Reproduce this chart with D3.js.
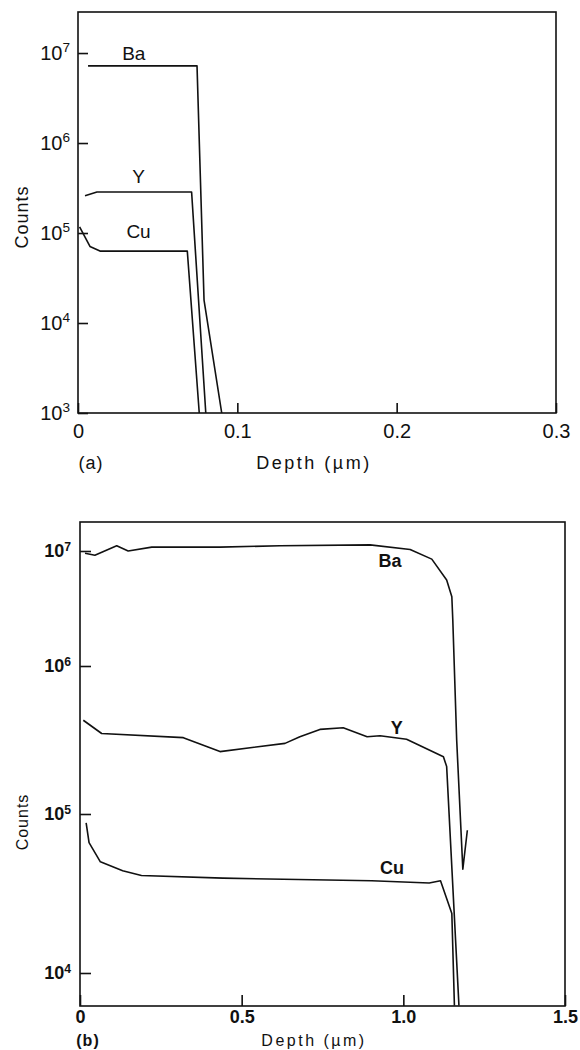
<!DOCTYPE html>
<html>
<head>
<meta charset="utf-8">
<script src="https://cdn.jsdelivr.net/npm/d3@7/dist/d3.min.js"></script>
<style>
  body { margin: 0; background: #fff; }
  svg { display: block; }
  text { font-family: 'Liberation Sans', Arial, sans-serif; fill: #111; }
</style>
</head>
<body>
<script>
/* global d3 */

// ---- panel (a) : depth in um, counts ----
const aBaDepth = [0.0063, 0.0747, 0.0791, 0.0902];
const aBaCounts = [7.2e6, 7.2e6, 1.8e4, 1e3];
const aYDepth = [0.0044, 0.0119, 0.0713, 0.0802];
const aYCounts = [2.6e5, 2.86e5, 2.86e5, 1e3];
const aCuDepth = [0.001, 0.0075, 0.0138, 0.0686, 0.0761];
const aCuCounts = [1.17e5, 7.1e4, 6.3e4, 6.3e4, 1e3];
const aLabels = ['Ba', 'Y', 'Cu'];
const aLabelDepth = [0.035, 0.038, 0.038];
const aLabelCounts = [1.0e7, 4.3e5, 1.05e5];
const aXTicks = [0, 0.1, 0.2, 0.3];
const aYTicks = [1e3, 1e4, 1e5, 1e6, 1e7];

// ---- panel (b) ----
const bBaDepth = [0.0155, 0.046, 0.1135, 0.149, 0.222, 0.433, 0.619, 0.897, 1.021,
  1.088, 1.134, 1.150, 1.153, 1.165, 1.184, 1.198];
const bBaCounts = [9.55e6, 9.2e6, 1.11e7, 1.0e7, 1.08e7, 1.08e7, 1.11e7, 1.13e7, 1.03e7,
  8.5e6, 5.6e6, 4.0e6, 2.5e6, 3.16e5, 4.5e4, 7.9e4];
const bYDepth = [0.0102, 0.067, 0.3195, 0.433, 0.634, 0.680, 0.742, 0.814, 0.888,
  0.928, 1.01, 1.124, 1.134, 1.172];
const bYCounts = [4.3e5, 3.5e5, 3.28e5, 2.64e5, 3.0e5, 3.33e5, 3.73e5, 3.83e5, 3.33e5,
  3.38e5, 3.2e5, 2.44e5, 2.09e5, 6.2e3];
const bCuDepth = [0.019, 0.028, 0.063, 0.132, 0.190, 0.442, 0.902, 1.08, 1.115, 1.150, 1.158];
const bCuCounts = [8.8e4, 6.6e4, 5.0e4, 4.4e4, 4.1e4, 3.95e4, 3.8e4, 3.68e4, 3.8e4, 2.37e4, 6.2e3];
const bLabels = ['Ba', 'Y', 'Cu'];
const bLabelDepth = [0.959, 0.98, 0.965];
const bLabelCounts = [8.3e6, 3.8e5, 4.6e4];
const bXTicks = [0, 0.5, 1.0, 1.5];
const bXTickText = ['0', '0.5', '1.0', '1.5'];
const bYTicks = [1e4, 1e5, 1e6, 1e7];

const W = 580;
const H = 1050;

const svg = d3.select('body')
  .append('svg')
  .attr('width', W)
  .attr('height', H);

function zip(xs, ys) {
  return xs.map((x, i) => ({ x, y: ys[i] }));
}

function drawPanel(p) {
  const g = svg.append('g');
  const { x, y } = p;
  const [x0, x1] = x.range();
  const yr = y.range();
  const yBottom = yr[0];
  const yTop = yr[yr.length - 1];

  // frame
  g.append('rect')
    .attr('x', x0)
    .attr('y', yTop)
    .attr('width', x1 - x0)
    .attr('height', yBottom - yTop)
    .attr('fill', 'none')
    .attr('stroke', '#111')
    .attr('stroke-width', 1.6);

  const xAxis = d3.axisBottom(x)
    .tickValues(p.xTicks)
    .tickSize(-p.tickLen)
    .tickPadding(p.xPad)
    .tickFormat((d, i) => p.xTickText[i]);
  const gx = g.append('g')
    .attr('transform', `translate(0, ${yBottom})`)
    .call(xAxis);
  gx.select('.domain').remove();
  gx.selectAll('.tick line').attr('stroke', '#111').attr('stroke-width', 1.6);
  gx.selectAll('.tick text')
    .attr('fill', '#111')
    .style('font-size', `${p.tickFont}px`)
    .style('font-weight', p.weight);

  const yAxis = d3.axisLeft(y)
    .tickValues(p.yTicks)
    .tickSize(-p.tickLen)
    .tickPadding(p.yPad);
  const gy = g.append('g')
    .attr('transform', `translate(${x0}, 0)`)
    .call(yAxis);
  gy.select('.domain').remove();
  gy.selectAll('.tick line').attr('stroke', '#111').attr('stroke-width', 1.6);
  gy.selectAll('.tick text')
    .attr('fill', '#111')
    .style('font-size', `${p.tickFont}px`)
    .style('font-weight', p.weight)
    .each(function (d) {
      const t = d3.select(this).text('');
      t.append('tspan').text('10');
      t.append('tspan')
        .attr('dy', '-0.55em')
        .style('font-size', '0.68em')
        .text(Math.round(Math.log10(d)));
    });

  const line = d3.line()
    .x((d) => x(d.x))
    .y((d) => y(d.y));

  g.selectAll('path.series')
    .data(p.series)
    .join('path')
    .attr('class', 'series')
    .attr('d', line)
    .attr('fill', 'none')
    .attr('stroke', '#111')
    .attr('stroke-width', 1.6)
    .attr('stroke-linejoin', 'round');

  g.selectAll('text.lbl')
    .data(p.labels)
    .join('text')
    .attr('class', 'lbl')
    .attr('x', (d, i) => x(p.labelDepth[i]))
    .attr('y', (d, i) => y(p.labelCounts[i]))
    .attr('dy', '0.35em')
    .attr('text-anchor', 'middle')
    .style('font-size', `${p.labelFont}px`)
    .style('font-weight', p.weight)
    .text((d) => d);

  g.append('text')
    .attr('transform', `translate(${p.countsX}, ${p.countsY}) rotate(-90)`)
    .attr('text-anchor', 'middle')
    .attr('dy', '0.35em')
    .style('font-size', `${p.titleFont}px`)
    .style('letter-spacing', '1px')
    .text('Counts');

  g.append('text')
    .attr('x', p.depthX)
    .attr('y', p.titleY)
    .attr('text-anchor', 'middle')
    .attr('dy', '0.35em')
    .style('font-size', `${p.titleFont}px`)
    .style('letter-spacing', '2.5px')
    .text('Depth (\u00b5m)');

  g.append('text')
    .attr('x', p.tagX)
    .attr('y', p.titleY)
    .attr('text-anchor', 'middle')
    .attr('dy', '0.35em')
    .style('font-size', `${p.titleFont}px`)
    .style('font-weight', p.weight)
    .style('letter-spacing', '1px')
    .text(p.tag);
}

const xA = d3.scaleLinear().domain([0, 0.3]).range([78, 556]);
const yA = d3.scaleLog().domain([1e3, 10 ** 7.456]).range([413, 12]);

drawPanel({
  x: xA,
  y: yA,
  xTicks: aXTicks,
  xTickText: aXTicks.map((d) => String(d)),
  yTicks: aYTicks,
  tickLen: 10,
  xPad: 11,
  yPad: 8,
  tickFont: 20,
  labelFont: 19,
  titleFont: 18,
  weight: 'normal',
  series: [zip(aBaDepth, aBaCounts), zip(aYDepth, aYCounts), zip(aCuDepth, aCuCounts)],
  labels: aLabels,
  labelDepth: aLabelDepth,
  labelCounts: aLabelCounts,
  countsX: 22,
  countsY: 217,
  depthX: 314,
  titleY: 463,
  tagX: 91,
  tag: '(a)',
});

// panel (b) has an uneven log axis in the original, so use a piecewise log scale
const xB = d3.scaleLinear().domain([0, 1.5]).range([80, 565]);
const yB = d3.scaleLog()
  .domain([10 ** 3.79, 1e4, 1e5, 1e6, 1e7, 10 ** 7.25])
  .range([1006, 973, 814, 666, 551, 522]);

drawPanel({
  x: xB,
  y: yB,
  xTicks: bXTicks,
  xTickText: bXTickText,
  yTicks: bYTicks,
  tickLen: 11,
  xPad: 4,
  yPad: 9,
  tickFont: 18,
  labelFont: 18,
  titleFont: 16,
  weight: 'bold',
  series: [zip(bBaDepth, bBaCounts), zip(bYDepth, bYCounts), zip(bCuDepth, bCuCounts)],
  labels: bLabels,
  labelDepth: bLabelDepth,
  labelCounts: bLabelCounts,
  countsX: 22,
  countsY: 822,
  depthX: 314,
  titleY: 1040,
  tagX: 88,
  tag: '(b)',
});
</script>
</body>
</html>
